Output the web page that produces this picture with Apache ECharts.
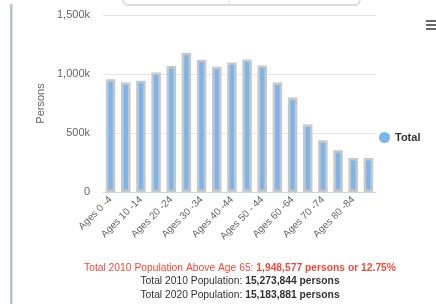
<!DOCTYPE html>
<html>
<head>
<meta charset="utf-8">
<script src="https://cdn.jsdelivr.net/npm/echarts@6/dist/echarts.min.js"></script>
<style>
html,body{margin:0;padding:0;background:#fff;}
#chart{width:436px;height:304px;}
</style>
</head>
<body>
<div id="chart"></div>
<script>
var categories = ["Ages 0 -4","Ages 5 -9","Ages 10 -14","Ages 15 -19","Ages 20 -24","Ages 25 -29","Ages 30 -34","Ages 35 -39","Ages 40 -44","Ages 45 -49","Ages 50 - 44","Ages 55 -59","Ages 60 -64","Ages 65 -69","Ages 70 -74","Ages 75 -79","Ages 80 -84","Ages 85+"];
var totalValues = [955000, 928000, 942000, 1012000, 1068000, 1180000, 1120000, 1062000, 1097000, 1122000, 1071000, 927000, 801000, 571000, 438000, 353000, 288000, 288000];
var yTicks = {min: 0, max: 1500000, interval: 500000};
var seriesName = "Total";
var footerLines = [
  {label: "Total 2010 Population Above Age 65: ", value: "1,948,577 persons or 12.75%", red: true},
  {label: "Total 2010 Population: ", value: "15,273,844 persons", red: false},
  {label: "Total 2020 Population: ", value: "15,183,881 persons", red: false}
];

var chart = echarts.init(document.getElementById('chart'), null, {renderer: 'canvas'});
var font = 'Liberation Sans, Arial, sans-serif';

var graphics = [
  {type: 'rect', shape: {x: 10, y: 4, width: 2.5, height: 300}, style: {fill: '#afc6cb'}, silent: true},
  {type: 'rect', shape: {x: 123, y: -12, width: 237, height: 17, r: 5}, style: {fill: 'none', stroke: '#dcdcdc', lineWidth: 2}, silent: true},
  {type: 'line', shape: {x1: 229, y1: 0, x2: 229, y2: 5}, style: {stroke: '#dcdcdc', lineWidth: 1}, silent: true},
  {type: 'rect', shape: {x: 426, y: 20, width: 10, height: 2}, style: {fill: '#666'}, silent: true},
  {type: 'rect', shape: {x: 426, y: 24, width: 10, height: 2}, style: {fill: '#666'}, silent: true},
  {type: 'rect', shape: {x: 426, y: 28, width: 10, height: 2}, style: {fill: '#666'}, silent: true}
];
footerLines.forEach(function (l, i) {
  var c = l.red ? '#ef4c3c' : '#333';
  graphics.push({
    type: 'text',
    x: 240, y: 268 + i * 13.5,
    style: {
      text: '{a|' + l.label + '}{b|' + l.value + '}',
      align: 'center', verticalAlign: 'middle',
      fill: c,
      rich: {
        a: {fontFamily: font, fontSize: 10.3, fill: c},
        b: {fontFamily: font, fontSize: 10.3, fontWeight: 'bold', fill: c}
      }
    },
    silent: true
  });
});

chart.setOption({
  animation: false,
  grid: {left: 103, right: 60, top: 15, bottom: 112, containLabel: false},
  legend: {
    orient: 'vertical', left: 374, top: 127,
    icon: 'circle', itemWidth: 11, itemHeight: 11, itemGap: 4,
    itemStyle: {borderWidth: 0},
    textStyle: {fontFamily: font, fontSize: 11, fontWeight: 'bold', color: '#333'},
    data: [seriesName]
  },
  xAxis: {
    type: 'category',
    data: categories,
    axisLine: {lineStyle: {color: '#ccd6eb'}},
    axisTick: {show: false},
    axisLabel: {
      interval: 1, rotate: 45, margin: 6,
      fontFamily: font, fontSize: 10, color: '#666'
    }
  },
  yAxis: {
    type: 'value',
    min: yTicks.min, max: yTicks.max, interval: yTicks.interval,
    name: 'Persons', nameLocation: 'middle', nameGap: 51, nameRotate: 90,
    nameTextStyle: {fontFamily: font, fontSize: 11, color: '#666'},
    axisLine: {show: false}, axisTick: {show: false},
    splitLine: {lineStyle: {color: '#e6e6e6'}},
    axisLabel: {
      margin: 13, fontFamily: font, fontSize: 11, color: '#666',
      formatter: function (v) { return v === 0 ? '0' : (v / 1000).toLocaleString('en-US') + 'k'; }
    }
  },
  series: [{
    name: seriesName,
    type: 'bar',
    data: totalValues,
    barWidth: 9.5,
    itemStyle: {color: '#7cb5ec', borderColor: '#c8c8c8', borderWidth: 2.5}
  }],
  graphic: graphics
});
</script>
</body>
</html>
